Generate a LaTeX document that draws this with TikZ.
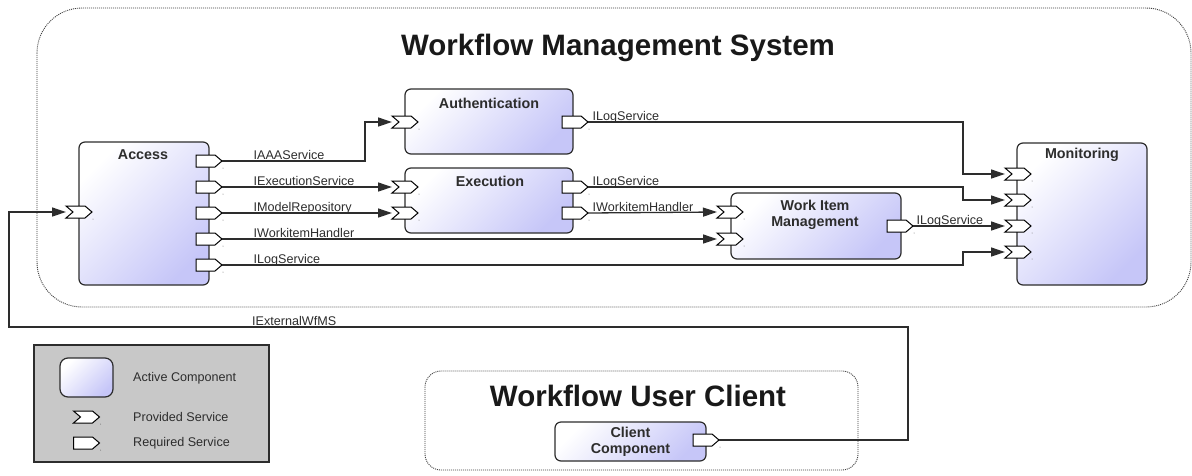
\documentclass[tikz,border=0pt]{standalone}
\usepackage{fontspec}
\setmainfont{Liberation Sans}
\usetikzlibrary{arrows.meta,calc}
\definecolor{compblue}{RGB}{198,198,248}
\definecolor{legendgray}{RGB}{200,200,200}
\definecolor{inkgray}{RGB}{45,45,45}
\tikzset{
  comp/.style={draw=inkgray, line width=1.2pt, rounded corners=6pt,
    top color=white, bottom color=compblue, shading angle=45},
  ctitle/.style={font=\bfseries\fontsize{14.3}{16}\selectfont, text=inkgray, align=center, inner sep=0pt},
  bigtitle/.style={font=\bfseries\fontsize{29.5}{32}\selectfont, text=black!90, inner sep=0pt},
  lab/.style={font=\fontsize{12.6}{15}\selectfont, text=inkgray, inner sep=0pt},
  portbox/.style={minimum width=26pt, minimum height=12pt, inner sep=0pt, outer sep=0pt, draw=none},
  portline/.style={draw=black, fill=white, line width=1pt, line join=miter},
  conn/.style={draw=inkgray, line width=1.3pt},
  arr/.style={conn, -{Triangle[length=14pt,width=9pt]}},
  sysbox/.style={draw=black!75, line width=0.9pt, dash pattern=on 1pt off 1pt, rounded corners=45pt},
}
\newcommand\provport[2]{%
  \node[portbox] (#1) at (#2) {};
  \draw[portline] (#1.north west) -- ([xshift=-7pt]#1.north east) -- (#1.east)
    -- ([xshift=-7pt]#1.south east) -- (#1.south west) -- ([xshift=7pt]#1.west) -- cycle;
  \fill[black!55] ([xshift=1pt,yshift=-7pt]#1.east) circle (0.5pt);}
\newcommand\reqport[2]{%
  \node[portbox] (#1) at (#2) {};
  \draw[portline] (#1.north west) -- ([xshift=-7pt]#1.north east) -- (#1.east)
    -- ([xshift=-7pt]#1.south east) -- (#1.south west) -- cycle;
  \fill[black!55] ([xshift=1pt,yshift=-7pt]#1.east) circle (0.5pt);}
\begin{document}
\begin{tikzpicture}[x=1pt,y=-1pt]
\useasboundingbox[fill=white] (0,0) rectangle (1192,475);

% system boundaries
\draw[sysbox] (37,8) rectangle (1191,307);
\node[bigtitle, anchor=base] (wfmsT) at (618,55) {Workflow Management System};
\draw[sysbox, rounded corners=16pt] (425,371) rectangle (858,470);
\node[bigtitle, anchor=base] (wucT) at (638,406) {Workflow User Client};

% components
\node[comp, minimum width=130pt, minimum height=143pt] (access) at (144,213.5) {};
\node[ctitle] (accessT) at (143,155) {Access};
\node[comp, minimum width=168pt, minimum height=65pt] (auth) at (489,121.5) {};
\node[ctitle] (authT) at (489,103) {Authentication};
\node[comp, minimum width=168pt, minimum height=65pt] (exec) at (489,200.5) {};
\node[ctitle] (execT) at (490,181) {Execution};
\node[comp, minimum width=170pt, minimum height=66pt] (wim) at (816,226) {};
\node[ctitle] (wimT) at (815,215) {Work Item\\Management};
\node[comp, minimum width=130pt, minimum height=142pt] (mon) at (1082,214) {};
\node[ctitle] (monT) at (1082,155) {Monitoring};
\node[comp, minimum width=151pt, minimum height=39pt] (client) at (630.5,441.5) {};
\node[ctitle] (clientT) at (630.5,441.5) {Client\\Component};

% ports
\provport{accP}{79,212}
\reqport{accR1}{209,161}
\reqport{accR2}{209,187}
\reqport{accR3}{209,213}
\reqport{accR4}{209,239}
\reqport{accR5}{209,265}
\provport{authP}{405,122}
\reqport{authR}{575,122}
\provport{execP1}{405,187}
\provport{execP2}{405,213}
\reqport{execR1}{575,187}
\reqport{execR2}{575,213}
\provport{wimP1}{730,212}
\provport{wimP2}{730,239}
\reqport{wimR}{900,226}
\provport{monP1}{1018,174}
\provport{monP2}{1018,200}
\provport{monP3}{1018,226}
\provport{monP4}{1018,252}
\reqport{clientR}{706,440}

% helper coordinates
\coordinate (bendA) at (365,0);
\coordinate (busX) at (963,0);
\coordinate (extA) at (908,327);
\coordinate (extB) at (9,0);

% connectors
\draw[arr] (accR1.east) node[lab, anchor=base west, xshift=31pt, yshift=2pt] (l1) {IAAAService}
  -| (bendA |- authP.west) -- (authP.west);
\draw[arr] (accR2.east) node[lab, anchor=base west, xshift=31pt, yshift=2pt] (l2) {IExecutionService}
  -- (execP1.west);
\draw[arr] (accR3.east) node[lab, anchor=base west, xshift=31pt, yshift=2pt] (l3) {IModelRepository}
  -- (execP2.west);
\draw[arr] (accR4.east) node[lab, anchor=base west, xshift=31pt, yshift=2pt] (l4) {IWorkitemHandler}
  -- (wimP2.west);
\draw[arr] (accR5.east) node[lab, anchor=base west, xshift=31pt, yshift=2pt] (l5) {ILogService}
  -| (busX |- monP4.west) -- (monP4.west);
\draw[arr] (authR.east) node[lab, anchor=base west, xshift=4pt, yshift=2pt] (l6) {ILogService}
  -| (busX |- monP1.west) -- (monP1.west);
\draw[arr] (execR1.east) node[lab, anchor=base west, xshift=4pt, yshift=2pt] (l7) {ILogService}
  -| (busX |- monP2.west) -- (monP2.west);
\draw[arr] (execR2.east) node[lab, anchor=base west, xshift=4pt, yshift=2pt] (l8) {IWorkitemHandler}
  -- (wimP1.west);
\draw[arr] (wimR.east) node[lab, anchor=base west, xshift=3pt, yshift=2pt] (l9) {ILogService}
  -- (monP3.west);
\draw[arr] (clientR.east) -| (extA) -| (extB |- accP.west) -- (accP.west);
\node[lab, anchor=base west] (l10) at (252,325) {IExternalWfMS};

% legend
\node[draw=inkgray, line width=1.2pt, fill=legendgray, minimum width=235pt, minimum height=117pt, inner sep=0pt] (legend) at (151.5,403.5) {};
\node[comp, rounded corners=8pt, minimum width=53pt, minimum height=39pt] (legComp) at (86.5,377.5) {};
\node[lab, anchor=west] (legT1) at (133,378) {Active Component};
\provport{legP}{86.5,417}
\node[lab, anchor=west] (legT2) at (133,417) {Provided Service};
\reqport{legR}{86.5,443}
\node[lab, anchor=west] (legT3) at (133,443) {Required Service};
\end{tikzpicture}
\end{document}
